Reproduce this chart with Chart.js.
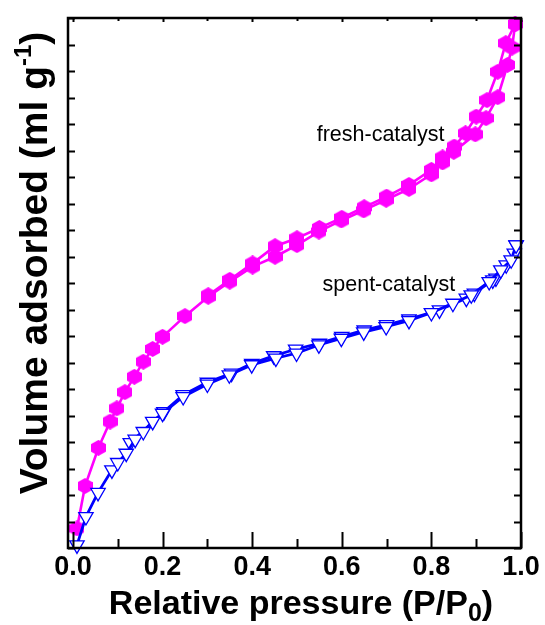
<!DOCTYPE html>
<html>
<head>
<meta charset="utf-8">
<script src="https://cdn.jsdelivr.net/npm/chart.js@4.4.1/dist/chart.umd.min.js"></script>
<style>
  html, body { margin: 0; padding: 0; background: #fff; }
  #wrap { width: 545px; height: 625px; position: relative; }
</style>
</head>
<body>
<div id="wrap"><canvas id="isoChart"></canvas></div>
<script>
// Isotherm data (P/P0, volume adsorbed)
const freshAdsP = [0.009, 0.027, 0.057, 0.083, 0.098, 0.116, 0.137, 0.157, 0.178, 0.200, 0.250, 0.302, 0.350, 0.401, 0.451, 0.500, 0.549, 0.599, 0.649, 0.699, 0.750, 0.800, 0.825, 0.850, 0.898, 0.922, 0.948, 0.970, 0.980, 0.987];
const freshAdsV = [7.4, 23.4, 37.8, 47.7, 52.7, 58.8, 64.6, 70.3, 75.1, 79.7, 87.5, 94.8, 100.5, 106.2, 109.9, 114.3, 119.4, 123.6, 127.4, 131.4, 135.5, 141.0, 145.5, 149.5, 156.1, 162.2, 170.1, 182.3, 188.8, 197.7];
const freshDesP = [0.987, 0.966, 0.948, 0.924, 0.900, 0.876, 0.851, 0.825, 0.800, 0.750, 0.700, 0.650, 0.600, 0.550, 0.500, 0.451, 0.401, 0.350, 0.302];
const freshDesV = [197.7, 190.5, 179.7, 169.0, 162.8, 156.5, 151.5, 147.4, 142.7, 137.0, 132.6, 128.6, 124.6, 120.8, 116.9, 113.9, 107.4, 101.2, 95.4];

const spentAdsP = [0.009, 0.029, 0.056, 0.087, 0.100, 0.119, 0.139, 0.157, 0.178, 0.200, 0.246, 0.300, 0.349, 0.399, 0.453, 0.499, 0.549, 0.599, 0.649, 0.699, 0.750, 0.800, 0.848, 0.889, 0.929, 0.955, 0.978, 0.989];
const spentAdsV = [1.1, 11.8, 20.9, 29.4, 32.2, 35.7, 41.0, 43.9, 47.7, 50.8, 57.1, 61.8, 65.3, 69.1, 71.6, 73.5, 76.6, 79.1, 81.5, 83.5, 85.8, 88.8, 92.3, 95.5, 100.5, 104.9, 108.7, 114.3];
const spentDesP = [0.989, 0.985, 0.967, 0.944, 0.937, 0.896, 0.878, 0.818, 0.750, 0.700, 0.650, 0.600, 0.550, 0.497, 0.448, 0.399, 0.354, 0.300, 0.246, 0.203, 0.128];
const spentDesV = [114.3, 111.2, 106.8, 101.8, 101.1, 96.1, 94.2, 89.8, 86.4, 84.2, 82.2, 79.8, 77.2, 75.0, 72.5, 69.6, 65.9, 62.5, 57.8, 51.4, 39.7];

const xTickValues = [0, 0.1, 0.2, 0.3, 0.4, 0.5, 0.6, 0.7, 0.8, 0.9, 1.0];
const xTickLabels = ['0.0', '', '0.2', '', '0.4', '', '0.6', '', '0.8', '', '1.0'];
const yTickValues = [0, 10, 20, 30, 40, 50, 60, 70, 80, 90, 100, 110, 120, 130, 140, 150, 160, 170, 180, 190, 200];

const seriesLabels = [
    { text: 'fresh-catalyst', x: 0.544, y: 155.8 },
    { text: 'spent-catalyst', x: 0.557, y: 99.2 }
];

const FONT = '"Liberation Sans", Arial, sans-serif';

function toPoints(xs, ys) {
    return xs.map((x, i) => ({ x: x, y: ys[i] }));
}

// filled hexagon marker for the fresh sample
function makeHexagon(w, h, color) {
    const c = document.createElement('canvas');
    c.width = w;
    c.height = h;
    const g = c.getContext('2d');
    g.fillStyle = color;
    g.beginPath();
    g.moveTo(w / 2, 0);
    g.lineTo(w, h * 0.27);
    g.lineTo(w, h * 0.73);
    g.lineTo(w / 2, h);
    g.lineTo(0, h * 0.73);
    g.lineTo(0, h * 0.27);
    g.closePath();
    g.fill();
    return c;
}
const hexMarker = makeHexagon(15, 16, '#ff00ff');

function spentSet(data) {
    return {
        data: data,
        borderColor: '#0000ff',
        borderWidth: 2.8,
        pointStyle: 'triangle',
        rotation: 180,
        pointRadius: 8.3,
        pointBorderWidth: 1.3,
        pointBorderColor: '#0000ff',
        pointBackgroundColor: '#ffffff',
        tension: 0,
        clip: false
    };
}

function freshSet(data) {
    return {
        data: data,
        borderColor: '#ff00ff',
        borderWidth: 2.6,
        pointStyle: hexMarker,
        pointRadius: 8,
        tension: 0,
        clip: false
    };
}

// frame + inward ticks on all four sides
const frameTicks = {
    id: 'frameTicks',
    afterDatasetsDraw(chart) {
        const { ctx, chartArea: a, scales } = chart;
        ctx.save();
        ctx.strokeStyle = '#000';
        ctx.lineWidth = 2;
        ctx.beginPath();
        xTickValues.forEach((v, i) => {
            const px = Math.round(scales.x.getPixelForValue(v)) + 0.5;
            const major = xTickLabels[i] !== '';
            ctx.moveTo(px, a.bottom);
            ctx.lineTo(px, a.bottom - (major ? 16 : 9));
            ctx.moveTo(px, a.top);
            ctx.lineTo(px, a.top + (major ? 4 : 3));
        });
        yTickValues.forEach(v => {
            const py = Math.round(scales.y.getPixelForValue(v)) + 0.5;
            ctx.moveTo(a.left, py);
            ctx.lineTo(a.left + 7, py);
            ctx.moveTo(a.right, py);
            ctx.lineTo(a.right - 7, py);
        });
        ctx.stroke();
        ctx.lineWidth = 2.5;
        ctx.strokeRect(a.left, a.top, a.right - a.left, a.bottom - a.top);
        ctx.restore();
    }
};

// axis titles with sub/superscripts, series names
const titles = {
    id: 'titles',
    afterDraw(chart) {
        const { ctx, scales } = chart;
        ctx.save();
        ctx.fillStyle = '#000';
        ctx.textBaseline = 'alphabetic';

        // x title
        const big = 'bold 34px ' + FONT;
        const small = 'bold 25px ' + FONT;
        const partA = 'Relative pressure (P/P';
        ctx.font = big;
        const wA = ctx.measureText(partA).width;
        const wC = ctx.measureText(')').width;
        ctx.font = small;
        const wB = ctx.measureText('0').width;
        let x = 301 - (wA + wB + wC) / 2;
        const base = 614;
        ctx.font = big;
        ctx.fillText(partA, x, base);
        x += wA;
        ctx.font = small;
        ctx.fillText('0', x, base + 7);
        x += wB;
        ctx.font = big;
        ctx.fillText(')', x, base);

        // y title
        const yBig = 'bold 39px ' + FONT;
        const ySmall = 'bold 24px ' + FONT;
        const yA = 'Volume adsorbed (ml g';
        ctx.font = yBig;
        const ya = ctx.measureText(yA).width;
        const yc = ctx.measureText(')').width;
        ctx.font = ySmall;
        const yb = ctx.measureText('-1').width;
        ctx.translate(47, 263);
        ctx.rotate(-Math.PI / 2);
        let t = -(ya + yb + yc) / 2;
        ctx.font = yBig;
        ctx.fillText(yA, t, 0);
        t += ya;
        ctx.font = ySmall;
        ctx.fillText('-1', t, -16);
        t += yb;
        ctx.font = yBig;
        ctx.fillText(')', t, 0);
        ctx.restore();

        ctx.save();
        ctx.fillStyle = '#000';
        ctx.font = '21.5px ' + FONT;
        ctx.textBaseline = 'middle';
        ctx.textAlign = 'left';
        seriesLabels.forEach(l => {
            ctx.fillText(l.text, scales.x.getPixelForValue(l.x), scales.y.getPixelForValue(l.y));
        });
        ctx.restore();
    }
};

const chart = new Chart(document.getElementById('isoChart').getContext('2d'), {
    type: 'line',
    data: {
        datasets: [
            spentSet(toPoints(spentAdsP, spentAdsV)),
            spentSet(toPoints(spentDesP, spentDesV)),
            freshSet(toPoints(freshAdsP, freshAdsV)),
            freshSet(toPoints(freshDesP, freshDesV))
        ]
    },
    options: {
        responsive: true,
        maintainAspectRatio: false,
        devicePixelRatio: 1,
        animation: false,
        layout: { padding: { left: 68, right: 24, top: 18, bottom: 0 } },
        plugins: {
            legend: { display: false },
            tooltip: { enabled: false }
        },
        scales: {
            x: {
                type: 'linear',
                position: 'bottom',
                min: -0.011,
                max: 1.0,
                grid: { display: false, drawTicks: false },
                border: { display: false },
                afterBuildTicks: s => { s.ticks = xTickValues.map(v => ({ value: v })); },
                afterFit: s => { s.height = 77; },
                ticks: {
                    autoSkip: false,
                    maxRotation: 0,
                    padding: 3,
                    color: '#000',
                    font: { family: FONT, size: 27, weight: 'bold' },
                    callback: (v, i) => xTickLabels[i]
                }
            },
            y: {
                type: 'linear',
                min: 0,
                max: 200,
                grid: { display: false, drawTicks: false },
                border: { display: false },
                afterBuildTicks: s => { s.ticks = yTickValues.map(v => ({ value: v })); },
                afterFit: s => { s.width = 0; },
                ticks: { display: false }
            }
        }
    },
    plugins: [frameTicks, titles]
});
</script>
</body>
</html>
